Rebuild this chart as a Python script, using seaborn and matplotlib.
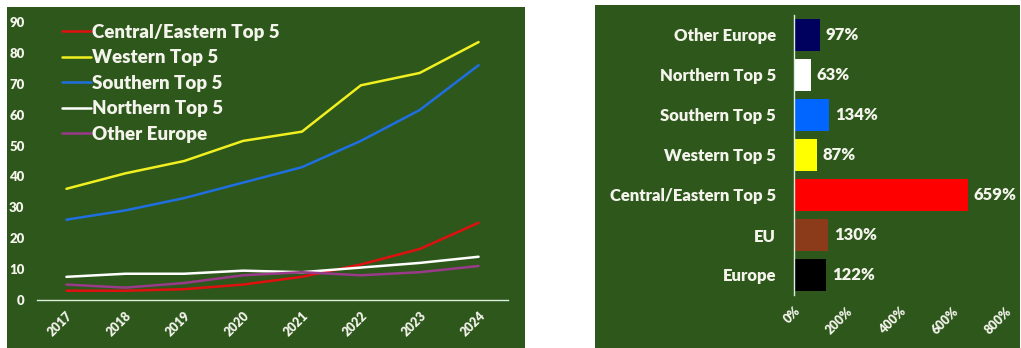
import pandas as pd
import numpy as np
import matplotlib.pyplot as plt
import matplotlib.patches as mpatches
import seaborn as sns

# Line chart data
years = [2017, 2018, 2019, 2020, 2021, 2022, 2023, 2024]
central_eastern = [3, 3, 3.5, 5, 7.5, 11.5, 16.5, 25]
western = [36, 41, 45, 51.5, 54.5, 69.5, 73.5, 83.5]
southern = [26, 29, 33, 38, 43, 51.5, 61.5, 76]
northern = [7.5, 8.5, 8.5, 9.5, 9, 10.5, 12, 14]
other_europe = [5, 4, 5.5, 8, 9, 8, 9, 11]

series_names = ["Central/Eastern Top 5", "Western Top 5", "Southern Top 5",
                "Northern Top 5", "Other Europe"]
series_values = [central_eastern, western, southern, northern, other_europe]
line_colors = ["#E01010", "#F0F020", "#1F6FE0", "#FFFFFF", "#9A3A8A"]

# Bar chart data
bar_categories = ["Other Europe", "Northern Top 5", "Southern Top 5", "Western Top 5",
                  "Central/Eastern Top 5", "EU", "Europe"]
bar_values = [97, 63, 134, 87, 659, 130, 122]
bar_colors = ["#00005E", "#FFFFFF", "#0066FF", "#FFFF00", "#FF0000", "#8B3A1A", "#000000"]

GREEN = "#2D571B"
TEXT = "#F4F4EC"
FONT = ["Lato", "DejaVu Sans"]

sns.set_style("white")
plt.rcParams["font.family"] = FONT
plt.rcParams["font.weight"] = "heavy"

fig = plt.figure(figsize=(10.21, 3.48), dpi=100)
W, H = 1021, 348

# green panels behind both charts
fig.patches.append(mpatches.Rectangle((7 / W, 0), 518 / W, 1 - 7 / H, transform=fig.transFigure,
                                      facecolor=GREEN, edgecolor="none", zorder=-5))
fig.patches.append(mpatches.Rectangle((595 / W, 0), 425 / W, 1 - 5 / H, transform=fig.transFigure,
                                      facecolor=GREEN, edgecolor="none", zorder=-5))

# ---- left: line chart
line_df = pd.DataFrame({
    "Year": np.tile(years, len(series_names)),
    "Value": np.concatenate(series_values),
    "Series": np.repeat(series_names, len(years)),
})
ax1 = fig.add_axes([37 / W, 1 - 300 / H, 471 / W, 278 / H])
ax1.set_facecolor(GREEN)
sns.lineplot(data=line_df, x="Year", y="Value", hue="Series", hue_order=series_names,
             palette=line_colors, linewidth=1.8, ax=ax1)
ax1.set_xlim(2016.5, 2024.5)
ax1.set_ylim(0, 90)
ax1.set_yticks(range(0, 91, 10))
ax1.set_xticks(years)
ax1.set_xticklabels([str(y) for y in years], rotation=45, ha="right", rotation_mode="anchor")
ax1.tick_params(colors=TEXT, labelsize=9, length=0, pad=7)
ax1.tick_params(axis="y", labelsize=9.5, pad=9)
ax1.set_xlabel("")
ax1.set_ylabel("")
for s in ["top", "right", "left"]:
    ax1.spines[s].set_visible(False)
ax1.spines["bottom"].set_color("#DDEEDD")
ax1.spines["bottom"].set_linewidth(1)
leg = ax1.legend(loc="upper left", bbox_to_anchor=(0.038, 1.02), frameon=False,
                 fontsize=13.5, labelspacing=0.45, handlelength=1.5, handletextpad=0.1,
                 borderaxespad=0)
for t in leg.get_texts():
    t.set_color(TEXT)
    t.set_fontweight("heavy")

# ---- right: bar chart
bar_df = pd.DataFrame({"Category": bar_categories, "Growth": bar_values})
ax2 = fig.add_axes([794 / W, 1 - 295 / H, 211 / W, 280 / H])
ax2.set_facecolor(GREEN)
sns.barplot(data=bar_df, y="Category", x="Growth", hue="Category", palette=bar_colors,
            order=bar_categories, orient="h", width=0.82, saturation=1, linewidth=0,
            legend=False, ax=ax2)
ax2.set_xlim(0, 800)
ax2.set_ylim(6.5, -0.5)
ax2.set_xticks(range(0, 801, 200))
ax2.set_xticklabels([f"{v}%" for v in range(0, 801, 200)], rotation=45, ha="right",
                    rotation_mode="anchor")
ax2.tick_params(colors=TEXT, labelsize=9, length=0)
ax2.tick_params(axis="y", labelsize=12, pad=13)
ax2.tick_params(axis="x", pad=7)
ax2.set_xlabel("")
ax2.set_ylabel("")
for s in ["top", "right", "bottom"]:
    ax2.spines[s].set_visible(False)
ax2.spines["left"].set_color("#DDEEDD")
ax2.spines["left"].set_linewidth(1)
for c in ax2.containers:
    ax2.bar_label(c, labels=[f"{v:.0f}%" for v in c.datavalues], padding=4,
                  color=TEXT, fontsize=12, fontweight="heavy")

fig.savefig("out.png", dpi=100, facecolor="white")
